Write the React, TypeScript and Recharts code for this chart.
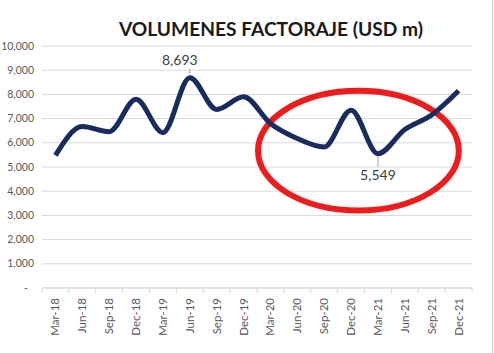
import { LineChart, Line, XAxis, YAxis, CartesianGrid, ReferenceArea, LabelList } from 'recharts';

const quarters = [
  'Mar-18', 'Jun-18', 'Sep-18', 'Dec-18',
  'Mar-19', 'Jun-19', 'Sep-19', 'Dec-19',
  'Mar-20', 'Jun-20', 'Sep-20', 'Dec-20',
  'Mar-21', 'Jun-21', 'Sep-21', 'Dec-21',
];
const volumes = [5480, 6670, 6460, 7800, 6420, 8693, 7380, 7900, 6800, 6180, 5830, 7350, 5549, 6550, 7150, 8150];
const yTicks = [0, 1000, 2000, 3000, 4000, 5000, 6000, 7000, 8000, 9000, 10000];
const labelAbove = ['Jun-19'];
const labelBelow = ['Mar-21'];

const data = quarters.map((q, i) => ({ q, v: volumes[i] }));

const FONT = 'Lato, "Open Sans", sans-serif';

const XTick = (props: any) => {
  const { x, y, payload, index, visibleTicksCount } = props;
  const half = payload.offset ?? 13.4;
  const last = index === visibleTicksCount - 1;
  return (
    <g>
      <line x1={x - half} x2={x - half} y1={y - 8} y2={y - 3} stroke="#d9d9d9" />
      {last && <line x1={x + half} x2={x + half} y1={y - 8} y2={y - 3} stroke="#d9d9d9" />}
      <text
        x={x}
        y={y + 2}
        transform={`rotate(-90 ${x} ${y + 2})`}
        textAnchor="end"
        dy="0.35em"
        fontSize={11.5}
        fill="#595959"
        fontFamily={FONT}
      >
        {payload.value}
      </text>
    </g>
  );
};

const YTick = (props: any) => {
  const { x, y, payload } = props;
  const zero = payload.value === 0;
  return (
    <text x={zero ? x - 6 : x} y={y} dy="0.35em" textAnchor="end" fontSize={10.5} fill="#595959" fontFamily={FONT}>
      {zero ? '-' : payload.value.toLocaleString('en-US')}
    </text>
  );
};

const PointLabel = (props: any) => {
  const { x, y, value, index } = props;
  const q = quarters[index];
  if (labelAbove.includes(q)) {
    return (
      <g>
        <line x1={x} x2={x} y1={y - 9} y2={y - 3} stroke="#a6a6a6" />
        <text x={x - 10} y={y - 18} dy="0.35em" textAnchor="middle" fontSize={14} fill="#404040" fontFamily={FONT}>
          {value.toLocaleString('en-US')}
        </text>
      </g>
    );
  }
  if (labelBelow.includes(q)) {
    return (
      <g>
        <line x1={x} x2={x} y1={y + 3} y2={y + 13} stroke="#a6a6a6" />
        <text x={x} y={y + 21} dy="0.35em" textAnchor="middle" fontSize={14} fill="#404040" fontFamily={FONT}>
          {value.toLocaleString('en-US')}
        </text>
      </g>
    );
  }
  return null;
};

const Ring = (props: any) => {
  const { x, y, width, height } = props;
  const rx = width * 0.467;
  return (
    <ellipse
      cx={x + rx + 1}
      cy={y + height / 2}
      rx={rx}
      ry={height / 2}
      fill="none"
      stroke="#ee1d1d"
      strokeWidth={6}
    />
  );
};

export default function App() {
  return (
    <div style={{ position: 'absolute', left: 0, top: 0, width: 494, height: 353, background: '#fff', fontFamily: FONT }}>
      <div
        style={{
          position: 'absolute',
          left: 0,
          width: 542,
          top: 17,
          textAlign: 'center',
          fontSize: 19.2,
          fontWeight: 700,
          color: '#1a1a1a',
        }}
      >
        VOLUMENES FACTORAJE (USD m)
      </div>
      <div style={{ position: 'absolute', left: 492, top: 0, width: 1, height: 353, background: '#d0d0d0' }} />
      <LineChart width={494} height={353} data={data} margin={{ top: 46, right: 22, bottom: 0, left: 0 }}>
        <CartesianGrid vertical={false} stroke="#d9d9d9" />
        <XAxis
          dataKey="q"
          scale="band"
          interval={0}
          height={65}
          axisLine={{ stroke: '#d9d9d9' }}
          tickLine={false}
          tick={<XTick />}
        />
        <YAxis
          width={42}
          domain={[0, 10000]}
          ticks={yTicks}
          axisLine={false}
          tickLine={false}
          tick={<YTick />}
        />
        <ReferenceArea x1="Mar-20" x2="Dec-21" y1={3200} y2={8150} ifOverflow="visible" shape={<Ring />} />
        <Line
          type="monotone"
          dataKey="v"
          stroke="#1a2b5e"
          strokeWidth={5}
          dot={false}
          activeDot={false}
          isAnimationActive={false}
        >
          <LabelList dataKey="v" content={<PointLabel />} />
        </Line>
      </LineChart>
    </div>
  );
}
